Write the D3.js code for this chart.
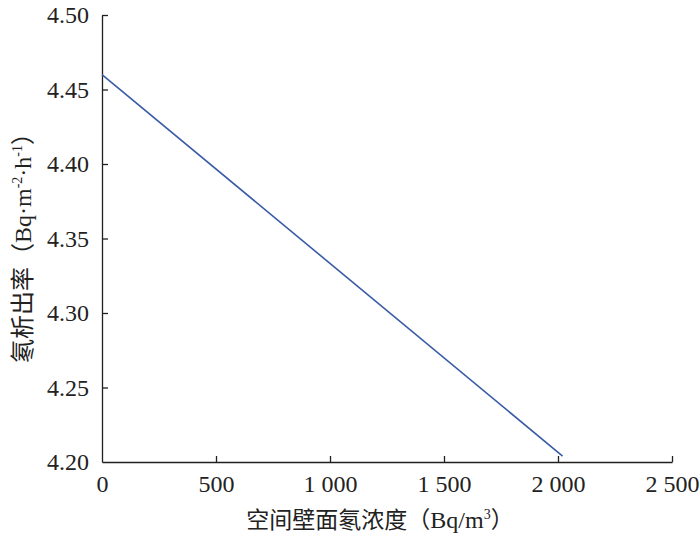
<!DOCTYPE html>
<html>
<head>
<meta charset="utf-8">
<script src="https://cdn.jsdelivr.net/npm/d3@7"></script>
<style>
  body { margin: 0; background: #fff; }
  svg { display: block; }
</style>
</head>
<body>
<div id="chart"></div>
<script>
// data
const concentration = [0, 2020];
const exhalation = [4.46, 4.204];
const xTicks = [0, 500, 1000, 1500, 2000, 2500];
const yTicks = [4.20, 4.25, 4.30, 4.35, 4.40, 4.45, 4.50];
const xTitle = '空间壁面氡浓度（';

const width = 700;
const height = 534;
const margin = {top: 15, left: 102, bottom: 72, right: 28};

const svg = d3.select('#chart').append('svg')
    .attr('width', width).attr('height', height);

const x = d3.scaleLinear()
    .domain([0, 2500])
    .range([margin.left, width - margin.right]);

const y = d3.scaleLinear()
    .domain([4.20, 4.50])
    .range([height - margin.bottom, margin.top]);

const fmtX = d => d3.format(',')(d).replace(',', ' ');
const axisColor = '#231f1c';
const serif = 'Liberation Serif';
const cjk = 'Noto Sans CJK SC';

const styleAxis = g => g
    .call(g => g.select('.domain').attr('stroke', axisColor).attr('stroke-width', 1.3))
    .call(g => g.selectAll('.tick line').attr('stroke', axisColor).attr('stroke-width', 1.3))
    .call(g => g.selectAll('.tick text')
        .attr('fill', '#222').attr('font-family', serif).attr('font-size', 24));

// x axis
svg.append('g')
    .attr('transform', `translate(0, ${y(4.20)})`)
    .call(d3.axisBottom(x).tickValues(xTicks).tickFormat(fmtX)
        .tickSizeInner(-6).tickSizeOuter(0).tickPadding(13))
    .call(styleAxis)
    .call(g => g.selectAll('.tick').filter(d => d === 0).select('line').remove());

// y axis
svg.append('g')
    .attr('transform', `translate(${x(0)}, 0)`)
    .call(d3.axisLeft(y).tickValues(yTicks).tickFormat(d3.format('.2f'))
        .tickSizeInner(-6).tickSizeOuter(0).tickPadding(13))
    .call(styleAxis)
    .call(g => g.selectAll('.tick').filter(d => d === 4.20).select('line').remove());

// line
const pts = concentration.map((c, i) => [c, exhalation[i]]);
svg.append('path')
    .datum(pts)
    .attr('fill', 'none')
    .attr('stroke', '#3a5ba5')
    .attr('stroke-width', 1.6)
    .attr('d', d3.line().x(d => x(d[0])).y(d => y(d[1])));

// x title
const xt = svg.append('text')
    .attr('x', 380).attr('y', 528)
    .attr('text-anchor', 'middle')
    .attr('fill', '#222')
    .attr('font-size', 23);
xt.append('tspan').attr('font-family', cjk).text(xTitle);
xt.append('tspan').attr('font-family', serif).attr('font-size', 24).text('Bq/m');
xt.append('tspan').attr('font-family', serif).attr('font-size', 14).attr('dy', -9).text('3');
xt.append('tspan').attr('font-family', cjk).attr('dy', 9).text('）');

// y title (chinese + units with superscripts)
const yt = svg.append('text')
    .attr('transform', 'translate(31, 242) rotate(-90)')
    .attr('text-anchor', 'middle')
    .attr('fill', '#222')
    .attr('font-size', 24);
yt.append('tspan').attr('font-family', cjk).text('氡析出率（');
yt.append('tspan').attr('font-family', serif).text('Bq·m');
yt.append('tspan').attr('font-family', serif).attr('font-size', 14).attr('dy', -9).text('-2');
yt.append('tspan').attr('font-family', serif).attr('dy', 9).text('·h');
yt.append('tspan').attr('font-family', serif).attr('font-size', 14).attr('dy', -9).text('-1');
yt.append('tspan').attr('font-family', cjk).attr('dy', 9).text('）');
</script>
</body>
</html>
